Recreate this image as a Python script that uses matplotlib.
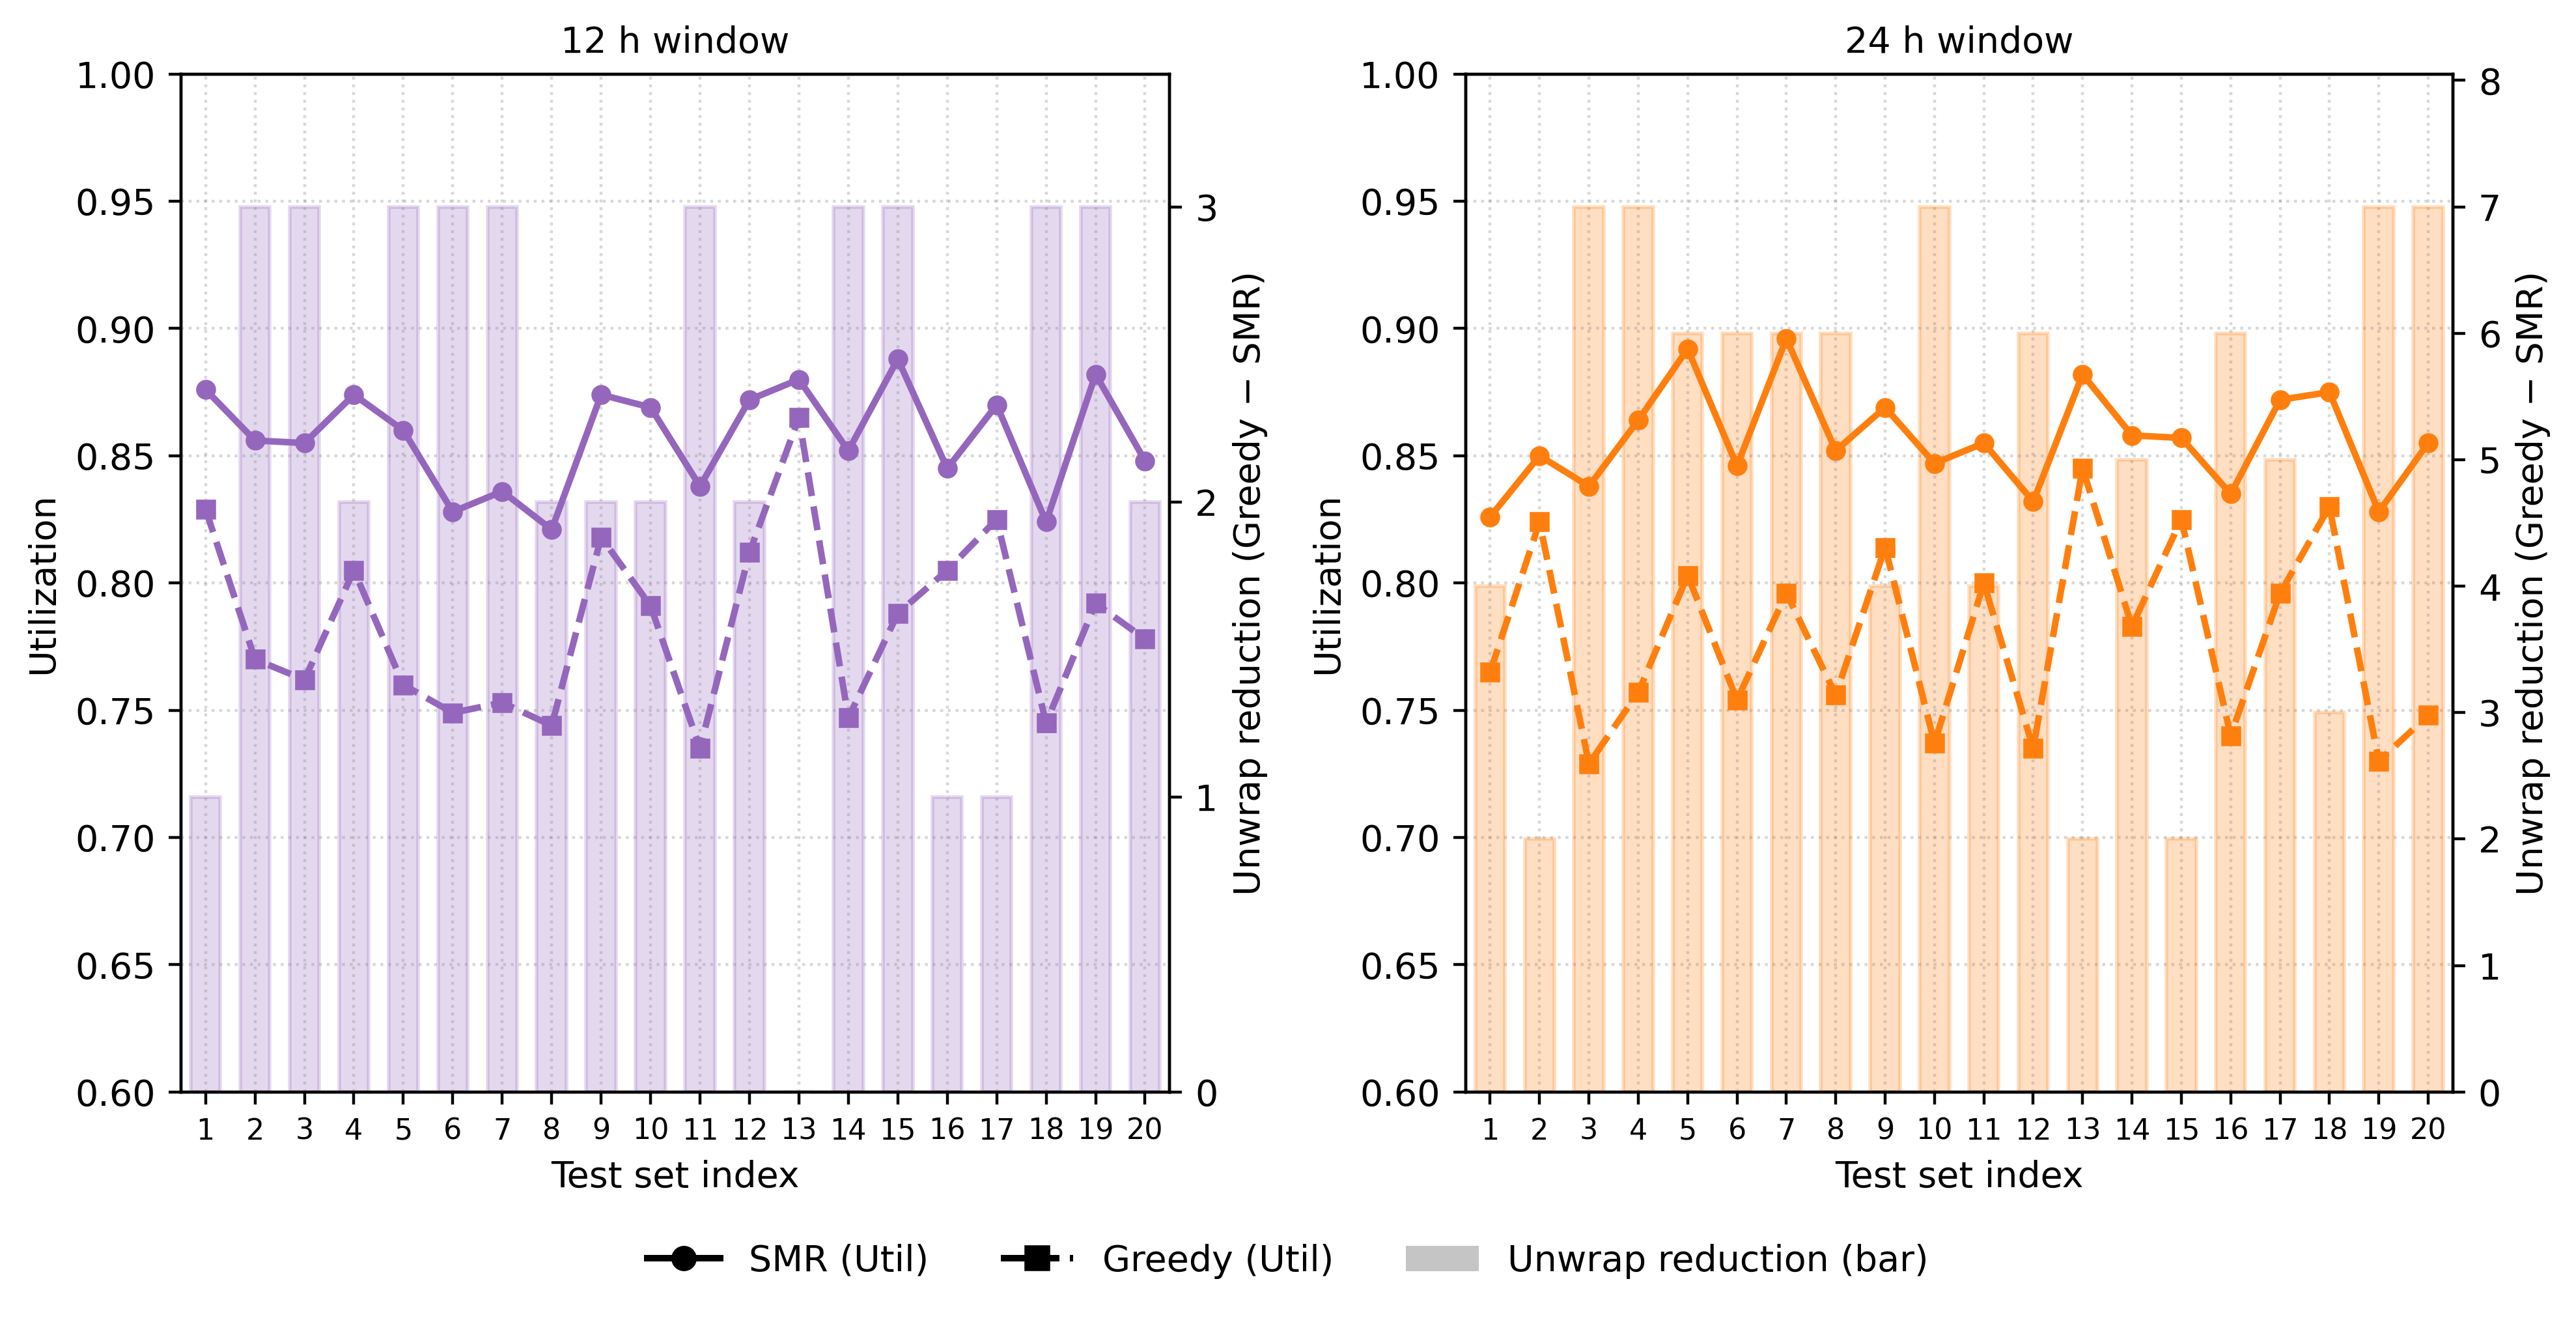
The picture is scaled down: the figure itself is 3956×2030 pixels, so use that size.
import numpy as np
import matplotlib
matplotlib.use("Agg")
import matplotlib.pyplot as plt
from matplotlib.lines import Line2D
from matplotlib.patches import Patch
from matplotlib.ticker import MaxNLocator

# test set index
idx = np.arange(1, 21)

# 12 h window
smr_12 = [0.876, 0.856, 0.855, 0.874, 0.860, 0.828, 0.836, 0.821, 0.874, 0.869,
          0.838, 0.872, 0.880, 0.852, 0.888, 0.845, 0.870, 0.824, 0.882, 0.848]
greedy_12 = [0.829, 0.770, 0.762, 0.805, 0.760, 0.749, 0.753, 0.744, 0.818, 0.791,
             0.735, 0.812, 0.865, 0.747, 0.788, 0.805, 0.825, 0.745, 0.792, 0.778]
unwrap_12 = [1, 3, 3, 2, 3, 3, 3, 2, 2, 2, 3, 2, 0, 3, 3, 1, 1, 3, 3, 2]

# 24 h window
smr_24 = [0.826, 0.850, 0.838, 0.864, 0.892, 0.846, 0.896, 0.852, 0.869, 0.847,
          0.855, 0.832, 0.882, 0.858, 0.857, 0.835, 0.872, 0.875, 0.828, 0.855]
greedy_24 = [0.765, 0.824, 0.729, 0.757, 0.803, 0.754, 0.796, 0.756, 0.814, 0.737,
             0.800, 0.735, 0.845, 0.783, 0.825, 0.740, 0.796, 0.830, 0.730, 0.748]
unwrap_24 = [4, 2, 7, 7, 6, 6, 6, 6, 4, 7, 4, 6, 2, 5, 2, 6, 5, 3, 7, 7]

panels = [
    ("12 h window", smr_12, greedy_12, unwrap_12, "#9467bd"),
    ("24 h window", smr_24, greedy_24, unwrap_24, "#ff7f0e"),
]

dpi = 400
fig = plt.figure(figsize=(3956/dpi, 2030/dpi), dpi=dpi)
positions = [[0.0702, 0.174, 0.3839, 0.770], [0.5689, 0.174, 0.3833, 0.770]]

for pos, (title, smr, greedy, unwrap, col) in zip(positions, panels):
    ax = fig.add_axes(pos)
    ax2 = ax.twinx()
    # bars on the twin axis, behind the lines
    ax2.bar(idx, unwrap, width=0.6, color=col, alpha=0.25, edgecolor=col, linewidth=1.0, zorder=1)
    ax2.set_ylim(0, max(unwrap) * 1.15)
    ax2.yaxis.set_major_locator(MaxNLocator(integer=True))
    ax2.set_ylabel("Unwrap reduction (Greedy \u2212 SMR)")

    ax.set_zorder(ax2.get_zorder() + 1)
    ax.patch.set_visible(False)
    ax.plot(idx, smr, "-o", color=col, lw=1.8, ms=4.5)
    ax.plot(idx, greedy, "--s", color=col, lw=1.8, ms=4.5)
    ax.set_ylim(0.6, 1.0)
    ax.set_xlim(0.5, 20.5)
    ax.set_xticks(idx)
    ax.tick_params(axis="x", labelsize=8)
    ax.grid(True, linestyle=":", color="gray", alpha=0.3, linewidth=0.8)
    ax.set_xlabel("Test set index")
    ax.set_ylabel("Utilization")
    ax.set_title(title, fontsize=10)

handles = [
    Line2D([], [], color="black", ls="-", marker="o", lw=1.8, ms=6),
    Line2D([], [], color="black", ls="--", marker="s", lw=1.8, ms=6),
    Patch(facecolor="gray", alpha=0.45),
]
fig.legend(handles, ["SMR (Util)", "Greedy (Util)", "Unwrap reduction (bar)"],
           loc="center", bbox_to_anchor=(0.5, 0.046), ncol=3, frameon=False)

fig.savefig("out.png", dpi=dpi)
